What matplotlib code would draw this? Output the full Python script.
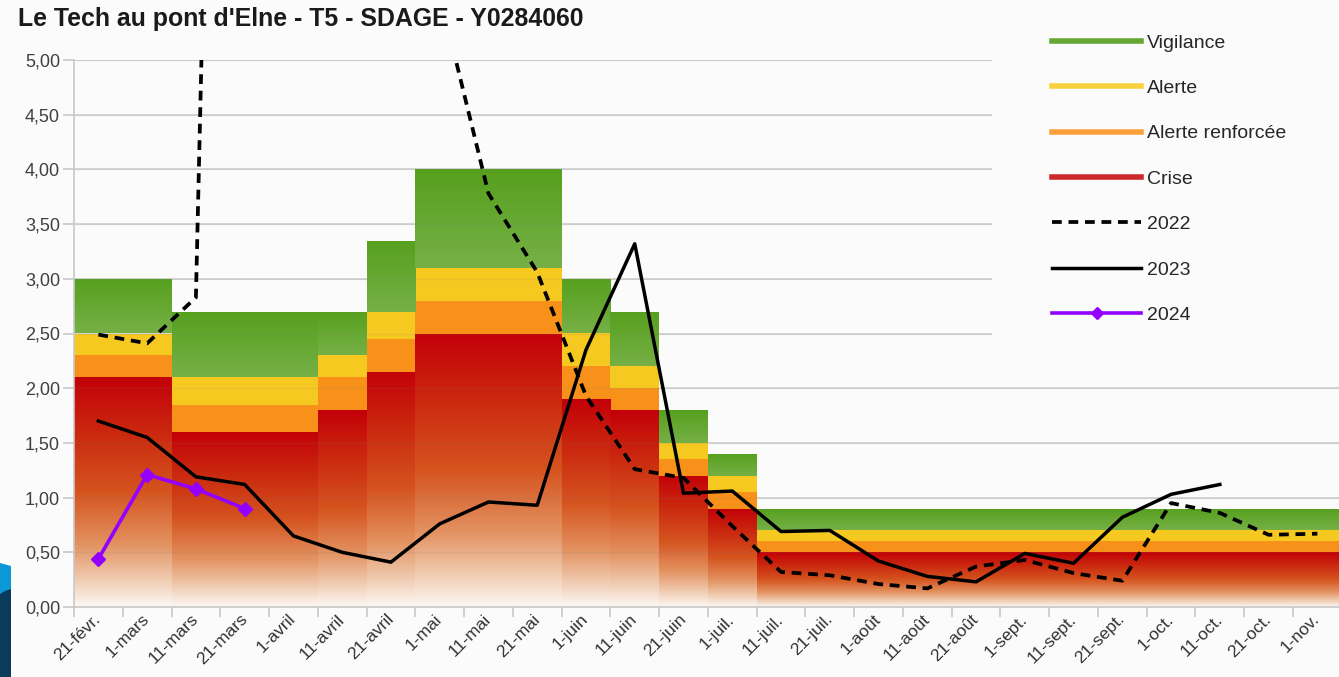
import numpy as np
import matplotlib
matplotlib.use('Agg')
import matplotlib.pyplot as plt
from matplotlib.colors import LinearSegmentedColormap
from matplotlib.lines import Line2D
from matplotlib.patches import Rectangle, Polygon
from matplotlib.ticker import FixedLocator, FuncFormatter

plt.rcParams['font.family'] = ['Liberation Sans', 'DejaVu Sans']

# 10-day periods on the category axis
categories = ['21-févr.', '1-mars', '11-mars', '21-mars', '1-avril', '11-avril',
              '21-avril', '1-mai', '11-mai', '21-mai', '1-juin', '11-juin',
              '21-juin', '1-juil.', '11-juil.', '21-juil.', '1-août', '11-août',
              '21-août', '1-sept.', '11-sept.', '21-sept.', '1-oct.', '11-oct.',
              '21-oct.', '1-nov.']

# Drought thresholds (m3/s), cumulative tops of each band
seuil_crise = [2.1, 2.1, 1.6, 1.6, 1.6, 1.8, 2.15, 2.5, 2.5, 2.5, 1.9, 1.8, 1.2,
               0.9, 0.5, 0.5, 0.5, 0.5, 0.5, 0.5, 0.5, 0.5, 0.5, 0.5, 0.5, 0.5]
seuil_renforcee = [2.3, 2.3, 1.85, 1.85, 1.85, 2.1, 2.45, 2.8, 2.8, 2.8, 2.2, 2.0, 1.35,
                   1.05, 0.6, 0.6, 0.6, 0.6, 0.6, 0.6, 0.6, 0.6, 0.6, 0.6, 0.6, 0.6]
seuil_alerte = [2.5, 2.5, 2.1, 2.1, 2.1, 2.3, 2.7, 3.1, 3.1, 3.1, 2.5, 2.2, 1.5,
                1.2, 0.7, 0.7, 0.7, 0.7, 0.7, 0.7, 0.7, 0.7, 0.7, 0.7, 0.7, 0.7]
seuil_vigilance = [3.0, 3.0, 2.7, 2.7, 2.7, 2.7, 3.35, 4.0, 4.0, 4.0, 3.0, 2.7, 1.8,
                   1.4, 0.9, 0.9, 0.9, 0.9, 0.9, 0.9, 0.9, 0.9, 0.9, 0.9, 0.9, 0.9]

# Observed flows (NaN = no data)
nan = np.nan
debit_2022 = [2.49, 2.41, 2.83, 22.0, 17.0, 12.0, 8.0, 5.6, 3.78, 3.06, 1.93, 1.26, 1.18,
              0.74, 0.32, 0.29, 0.21, 0.17, 0.37, 0.43, 0.31, 0.24, 0.95, 0.86, 0.66, 0.67]
debit_2023 = [1.70, 1.55, 1.19, 1.12, 0.65, 0.50, 0.41, 0.76, 0.96, 0.93, 2.35, 3.32, 1.04,
              1.06, 0.69, 0.70, 0.42, 0.28, 0.23, 0.49, 0.40, 0.82, 1.03, 1.12, nan, nan]
debit_2024 = [0.44, 1.21, 1.08, 0.90, nan, nan, nan, nan, nan, nan, nan, nan, nan,
              nan, nan, nan, nan, nan, nan, nan, nan, nan, nan, nan, nan, nan]

bg = '#fbfbfb'
W, H = 1339, 677
fig = plt.figure(figsize=(W / 100, H / 100), dpi=100, facecolor=bg)
ax = fig.add_axes([74 / W, 70 / H, 26 * 48.76 / W, 547 / H])
ax.set_facecolor(bg)

x = np.arange(len(categories)) + 0.5
crise = np.array(seuil_crise)
renf = np.array(seuil_renforcee)
alerte = np.array(seuil_alerte)
vigi = np.array(seuil_vigilance)

red_cmap = LinearSegmentedColormap.from_list('red', [
    (0.0, '#fcf8f4'), (0.12, '#f0cbb0'), (0.27, '#e39362'),
    (0.5, '#d5541f'), (0.75, '#cb2a10'), (1.0, '#c30008')])
green_cmap = LinearSegmentedColormap.from_list('green', ['#76b046', '#56a01e'])
grad = np.linspace(0, 1, 256).reshape(-1, 1)

# grid behind the bands, plus a faint copy on top
for v in np.arange(0.5, 5.01, 0.5):
    ax.axhline(v, color='#d4d4d4', lw=1.3, zorder=0.5)
    ax.axhline(v, color='#808080', lw=1.0, alpha=0.12, zorder=2)

# stacked threshold bands, gap width 0
red_bars = ax.bar(x, crise, width=1.0, color='none', linewidth=0, zorder=1)
ax.bar(x, renf - crise, bottom=crise, width=1.0, color='#f7911a', linewidth=0, zorder=1)
ax.bar(x, alerte - renf, bottom=renf, width=1.0, color='#f6c920', linewidth=0, zorder=1)
green_bars = ax.bar(x, vigi - alerte, bottom=alerte, width=1.0, color='none',
                    linewidth=0, zorder=1)

for bars, cmap in [(red_bars, red_cmap), (green_bars, green_cmap)]:
    for b in bars:
        x0, y0 = b.get_x(), b.get_y()
        im = ax.imshow(grad, extent=(x0, x0 + b.get_width(), y0, y0 + b.get_height()),
                       origin='lower', cmap=cmap, aspect='auto',
                       interpolation='bilinear', zorder=1)
        im.set_clip_path(b)

# lines
ax.plot(x, debit_2022, color='black', lw=2.7, dashes=(2.6, 1.8), zorder=3)
ax.plot(x, debit_2023, color='black', lw=2.5, zorder=3)
ax.plot(x, debit_2024, color='#9400ff', lw=2.6, marker='D', markersize=7.5, zorder=4)

ax.set_xlim(0, len(categories))
ax.set_ylim(0, 5)

# axes styling
for s in ['top', 'right']:
    ax.spines[s].set_visible(False)
ax.spines['left'].set_color('#c8c8c8')
ax.spines['bottom'].set_color('#c8c8c8')
ax.spines['left'].set_linewidth(1.2)
ax.spines['bottom'].set_linewidth(1.2)

ax.yaxis.set_major_locator(FixedLocator(np.arange(0, 5.01, 0.5)))
ax.yaxis.set_major_formatter(FuncFormatter(lambda v, p: f'{v:.2f}'.replace('.', ',')))
ax.tick_params(axis='y', length=8, width=1.2, color='#c8c8c8', labelsize=13,
               labelcolor='#404040', pad=2)

ax.xaxis.set_major_locator(FixedLocator(np.arange(0, len(categories) + 1)))
ax.xaxis.set_minor_locator(FixedLocator(x))
ax.set_xticks(x, categories, minor=True)
ax.tick_params(axis='x', which='major', length=7, width=1.2, color='#c8c8c8',
               labelbottom=False)
ax.tick_params(axis='x', which='minor', length=0, labelsize=12.5, labelcolor='#333333', pad=7)
for lab in ax.get_xticklabels(minor=True):
    lab.set_rotation(45)
    lab.set_ha('right')
    lab.set_va('center')
    lab.set_rotation_mode('anchor')

# title
fig.text(18 / W, 1 - 19 / H, "Le Tech au pont d'Elne - T5 - SDAGE - Y0284060",
         fontsize=17.9, fontweight='bold', color='#1a1a1a', va='center', ha='left')

# legend panel covering the upper-right plot area
fig.add_artist(Rectangle((992 / W, 1 - 350 / H), 1, 350 / H, transform=fig.transFigure,
                         facecolor=bg, edgecolor='none', zorder=5))

handles = [
    Line2D([], [], color='#66a836', lw=4),
    Line2D([], [], color='#f8d23c', lw=4),
    Line2D([], [], color='#f9a03c', lw=4),
    Line2D([], [], color='#cc2a2a', lw=4),
    Line2D([], [], color='black', lw=2.7, dashes=(2.6, 1.8)),
    Line2D([], [], color='black', lw=2.5),
    Line2D([], [], color='#9400ff', lw=2.6, marker='D', markersize=6),
]
labels = ['Vigilance', 'Alerte', 'Alerte renforcée', 'Crise', '2022', '2023', '2024']
leg = fig.legend(handles, labels, loc='upper left', bbox_to_anchor=(1052 / W, 1 - 34 / H),
                 frameon=False, fontsize=14, handlelength=4.6, handletextpad=0.28,
                 labelspacing=1.43, borderpad=0, borderaxespad=0)
leg.set_zorder(6)
for t in leg.get_texts():
    t.set_color('#262626')

# slide decoration at the left edge
fig.add_artist(Polygon([(0, 1 - 563 / H), (11 / W, 1 - 566 / H), (11 / W, 0), (0, 0)],
                       closed=True, transform=fig.transFigure, facecolor='#0a98d6',
                       edgecolor='none', zorder=7))
fig.add_artist(Polygon([(0, 1 - 594 / H), (5 / W, 1 - 591 / H), (11 / W, 1 - 589 / H),
                        (11 / W, 0), (0, 0)],
                       closed=True, transform=fig.transFigure, facecolor='#0b3b5b',
                       edgecolor='none', zorder=8))

fig.savefig('out.png', dpi=100, facecolor=bg)
